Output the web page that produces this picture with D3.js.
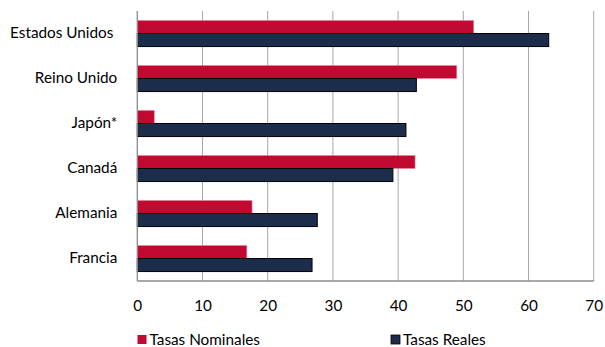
<!DOCTYPE html>
<html>
<head>
<meta charset="utf-8">
<script src="https://cdn.jsdelivr.net/npm/d3@7"></script>
<style>
  body { margin: 0; background: #fff; }
  text { font-family: Lato, "Open Sans", sans-serif; fill: #000; }
</style>
</head>
<body>
<svg id="chart" width="605" height="347"></svg>
<script>
// Países y tasas (%)
const countries = ["Estados Unidos ", "Reino Unido", "Japón*", "Canadá", "Alemania", "Francia"];
const nominal = [51.6, 49.0, 2.6, 42.6, 17.6, 16.8];
const real = [63.1, 42.8, 41.2, 39.2, 27.6, 26.8];
const xTicks = [0, 10, 20, 30, 40, 50, 60, 70];
const seriesNames = ["Tasas Nominales", "Tasas Reales"];
const colors = ["#C00A32", "#1B2D4A"];

const svg = d3.select("#chart");
const plotLeft = 137.3, plotRight = 593.7, plotTop = 11, plotBottom = 281;
const fontSize = "15.3px";

const x = d3.scaleLinear().domain([0, 70]).range([plotLeft, plotRight]);
const y = d3.scaleBand().domain(countries).range([plotTop, plotBottom]).paddingInner(0.42).paddingOuter(0.21);
const sub = d3.scaleBand().domain([0, 1]).range([0, y.bandwidth()]);

// Líneas de cuadrícula verticales
svg.append("g").selectAll("line").data(xTicks.slice(1)).join("line")
  .attr("x1", d => x(d)).attr("x2", d => x(d))
  .attr("y1", plotTop).attr("y2", plotBottom)
  .attr("stroke", "#a6a6a6").attr("stroke-width", 1);

const rows = countries.map((c, i) => ({ c, vals: [nominal[i], real[i]] }));

const g = svg.append("g").selectAll("g").data(rows).join("g")
  .attr("transform", d => `translate(0,${y(d.c)})`);

g.selectAll("rect").data(d => d.vals.map((v, k) => ({ v, k }))).join("rect")
  .attr("x", x(0))
  .attr("y", d => sub(d.k))
  .attr("width", d => x(d.v) - x(0))
  .attr("height", sub.bandwidth())
  .attr("fill", d => colors[d.k])
  .attr("stroke", d => d.k === 1 ? "#000" : "#e88aa0")
  .attr("stroke-width", d => d.k === 1 ? 1 : 0.6);

// Ejes
svg.append("line").attr("x1", plotLeft).attr("x2", plotLeft).attr("y1", plotTop).attr("y2", plotBottom)
  .attr("stroke", "#8c8c8c").attr("stroke-width", 1.3);
svg.append("line").attr("x1", plotLeft).attr("x2", plotRight).attr("y1", plotBottom).attr("y2", plotBottom)
  .attr("stroke", "#8c8c8c").attr("stroke-width", 1.3);

const xAxis = d3.axisBottom(x).tickValues(xTicks).tickSize(0).tickPadding(19);
const ax = svg.append("g").attr("transform", `translate(0,${plotBottom})`).call(xAxis);
ax.select(".domain").remove();
ax.selectAll("text").style("font-family", "Lato, 'Open Sans', sans-serif").style("font-size", fontSize).attr("fill", "#000");

const yAxis = d3.axisLeft(y).tickSize(0).tickPadding(20);
const ay = svg.append("g").attr("transform", `translate(${plotLeft},0)`).call(yAxis);
ay.select(".domain").remove();
ay.selectAll("text").style("font-family", "Lato, 'Open Sans', sans-serif").style("font-size", fontSize)
  .style("white-space", "pre").attr("fill", "#000");

// Leyenda
const legendX = [137.5, 391];
const lg = svg.append("g").selectAll("g").data(seriesNames).join("g")
  .attr("transform", (d, i) => `translate(${legendX[i]},335)`);
lg.append("rect").attr("width", 9).attr("height", 9)
  .attr("fill", (d, i) => colors[i])
  .attr("stroke", (d, i) => i === 1 ? "#000" : "none").attr("stroke-width", 0.8);
lg.append("text").attr("x", 12).attr("y", 5).attr("dy", "0.35em")
  .style("font-size", fontSize).text(d => d);
</script>
</body>
</html>
